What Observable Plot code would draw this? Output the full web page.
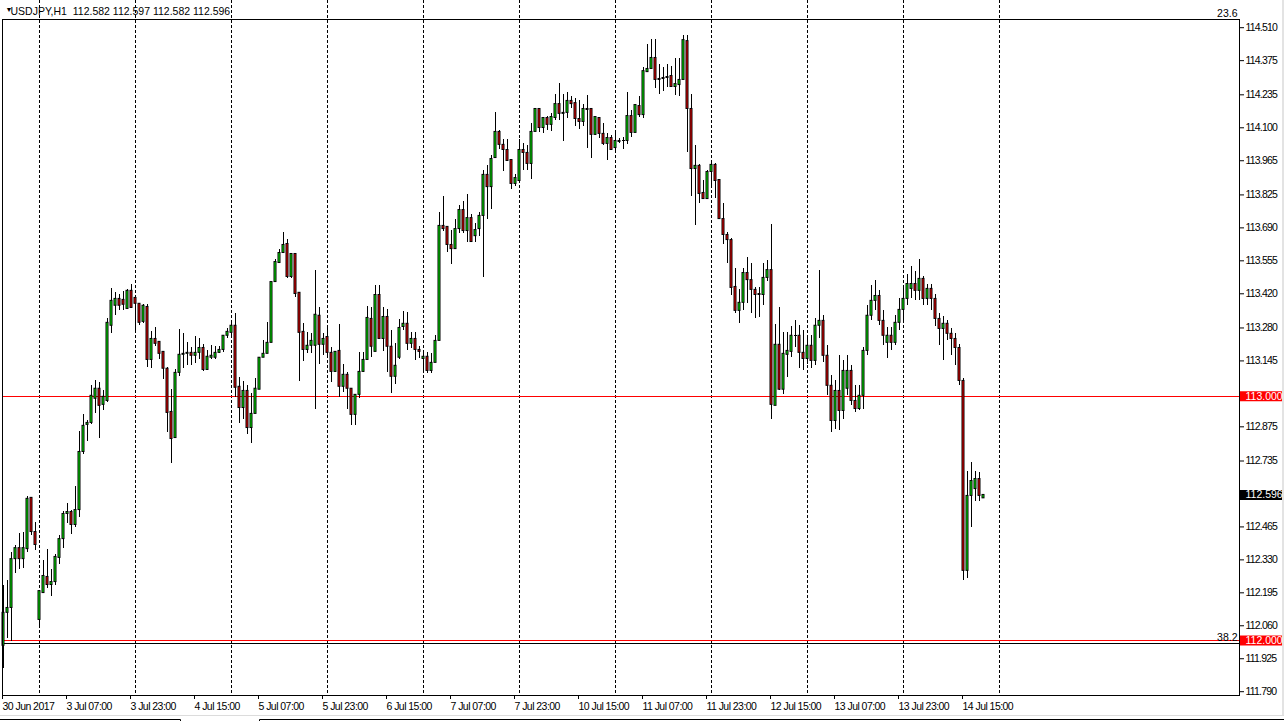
<!DOCTYPE html>
<html><head><meta charset="utf-8">
<script src="https://cdn.jsdelivr.net/npm/d3@7"></script>
<script src="https://cdn.jsdelivr.net/npm/@observablehq/plot@0.6"></script>
<style>
html,body{margin:0;padding:0;background:#fff;overflow:hidden;}
svg text{white-space:pre;}
g[aria-label="y-axis tick label"] text, g[aria-label="price tag text"] text{letter-spacing:-0.8px;}
g[aria-label="x-axis tick label"] text{letter-spacing:-0.55px;}
g[aria-label="title"] text{letter-spacing:-0.75px;}
g[aria-label="fib label"] text{letter-spacing:-0.6px;}
</style>
</head><body><div id="chart"></div>
<script>
// USDJPY H1 candles, bar 0 = 30 Jun 2017 15:00
const open = [
111.978,112.113,112.133,112.333,112.378,112.333,112.374,112.584,112.444,112.084,
112.194,112.260,112.227,112.239,112.338,112.415,112.518,112.526,112.473,112.534,
112.772,112.883,112.891,112.990,113.031,112.965,112.981,113.289,113.371,113.399,
113.395,113.358,113.432,113.403,113.379,113.305,113.366,113.149,113.235,113.223,
113.182,113.113,112.936,112.829,113.096,113.170,113.174,113.178,113.166,113.178,
113.198,113.108,113.158,113.158,113.178,113.190,113.248,113.260,113.289,113.039,
112.952,113.022,112.870,112.928,113.027,113.158,113.174,113.219,113.468,113.546,
113.587,113.624,113.489,113.583,113.424,113.264,113.190,113.207,113.207,113.330,
113.211,113.243,113.178,113.100,113.186,113.039,113.088,113.031,112.924,113.006,
113.100,113.149,113.317,113.182,113.415,113.235,113.325,113.203,113.080,113.158,
113.284,113.297,113.215,113.235,113.190,113.153,113.162,113.104,113.137,113.227,
113.698,113.694,113.620,113.603,113.685,113.763,113.677,113.730,113.656,113.685,
113.739,113.907,113.857,113.976,114.083,114.030,114.009,113.968,113.870,113.882,
114.009,113.997,113.952,114.083,114.177,114.099,114.140,114.112,114.140,114.197,
114.157,114.161,114.210,114.201,114.136,114.124,114.177,114.177,114.071,114.140,
114.075,114.034,114.058,114.017,114.042,114.046,114.046,114.148,114.079,114.189,
114.152,114.328,114.341,114.386,114.300,114.304,114.308,114.312,114.267,114.275,
114.296,114.455,114.177,113.931,113.944,113.833,113.808,113.919,113.948,113.886,
113.726,113.661,113.640,113.448,113.350,113.383,113.505,113.476,113.436,113.419,
113.415,113.485,113.517,112.961,113.211,113.027,113.170,113.182,113.248,113.248,
113.178,113.153,113.207,113.145,113.289,113.309,113.166,113.043,112.899,113.022,
112.940,113.031,113.104,112.981,112.948,113.002,113.186,113.330,113.391,113.411,
113.309,113.219,113.248,113.219,113.301,113.354,113.399,113.440,113.460,113.432,
113.481,113.399,113.440,113.399,113.317,113.276,113.297,113.256,113.235,113.198,
113.063,112.285,112.592,112.620,112.661,112.582
];
const high = [
112.223,112.247,112.362,112.387,112.440,112.444,112.588,112.586,112.485,112.205,
112.329,112.374,112.292,112.354,112.428,112.530,112.559,112.534,112.629,112.854,
112.924,112.899,113.043,113.063,113.055,113.022,113.317,113.440,113.424,113.419,
113.428,113.436,113.456,113.407,113.379,113.375,113.375,113.264,113.280,113.223,
113.182,113.117,113.026,113.108,113.272,113.256,113.219,113.198,113.243,113.235,
113.211,113.186,113.207,113.203,113.203,113.248,113.276,113.309,113.338,113.076,
113.059,113.043,113.010,113.072,113.158,113.227,113.301,113.468,113.562,113.603,
113.669,113.644,113.583,113.583,113.424,113.297,113.260,113.256,113.517,113.362,
113.256,113.276,113.198,113.182,113.293,113.129,113.096,113.031,113.006,113.178,
113.178,113.366,113.362,113.452,113.452,113.362,113.354,113.268,113.215,113.313,
113.346,113.342,113.260,113.260,113.203,113.186,113.178,113.174,113.248,113.751,
113.820,113.694,113.681,113.726,113.780,113.800,113.825,113.743,113.706,113.751,
113.923,113.944,113.985,114.161,114.087,114.050,114.050,113.972,113.907,114.050,
114.034,114.026,114.116,114.177,114.181,114.144,114.148,114.157,114.238,114.283,
114.238,114.246,114.230,114.222,114.210,114.197,114.234,114.177,114.144,114.144,
114.116,114.075,114.067,114.075,114.058,114.062,114.246,114.169,114.197,114.230,
114.345,114.443,114.463,114.463,114.361,114.345,114.361,114.353,114.382,114.382,
114.480,114.476,114.238,114.026,113.948,113.882,113.923,113.952,113.952,113.890,
113.788,113.669,113.648,113.522,113.436,113.522,113.567,113.542,113.444,113.444,
113.546,113.558,113.702,113.293,113.362,113.260,113.260,113.284,113.309,113.289,
113.268,113.235,113.248,113.317,113.517,113.330,113.207,113.084,113.063,113.166,
113.145,113.166,113.125,113.043,113.043,113.198,113.370,113.452,113.476,113.432,
113.350,113.280,113.280,113.330,113.399,113.440,113.501,113.530,113.513,113.562,
113.489,113.460,113.460,113.419,113.338,113.325,113.309,113.276,113.256,113.211,
113.071,112.694,112.727,112.694,112.686,112.597
];
const low = [
111.883,112.006,111.994,112.276,112.292,112.296,112.362,112.428,112.370,112.051,
112.194,112.211,112.178,112.223,112.313,112.378,112.477,112.432,112.461,112.505,
112.760,112.813,112.883,112.928,112.829,112.940,112.973,113.256,113.330,113.350,
113.350,113.354,113.358,113.260,113.289,113.297,113.117,113.113,113.203,113.149,
113.067,112.850,112.723,112.829,113.080,113.113,113.125,113.125,113.133,113.149,
113.100,113.104,113.149,113.149,113.174,113.178,113.235,113.248,112.994,112.887,
112.907,112.842,112.805,112.928,113.027,113.158,113.174,113.219,113.468,113.546,
113.587,113.481,113.481,113.403,113.059,113.141,113.174,113.174,112.948,113.129,
113.166,113.154,113.055,113.096,112.994,113.014,112.948,112.879,112.879,112.990,
113.096,113.149,113.158,113.182,113.235,113.182,113.096,113.010,113.047,113.149,
113.268,113.186,113.194,113.145,113.153,113.100,113.092,113.092,113.137,113.227,
113.677,113.591,113.538,113.603,113.665,113.665,113.632,113.632,113.632,113.656,
113.485,113.726,113.767,113.976,114.009,113.919,113.960,113.849,113.861,113.882,
113.927,113.923,113.890,114.083,114.079,114.075,114.087,114.083,114.128,114.128,
114.042,114.136,114.177,114.107,114.095,114.107,114.017,113.976,114.067,114.058,
114.026,113.968,114.005,113.993,114.034,114.009,114.030,114.062,114.079,114.144,
114.140,114.328,114.341,114.259,114.238,114.250,114.263,114.263,114.234,114.230,
114.296,113.997,113.820,113.698,113.788,113.808,113.808,113.861,113.812,113.726,
113.620,113.542,113.411,113.338,113.297,113.350,113.379,113.338,113.317,113.321,
113.370,113.472,112.907,112.961,113.022,113.006,113.076,113.158,113.198,113.113,
113.104,113.129,113.113,113.125,113.235,113.137,113.002,112.850,112.866,112.858,
112.907,113.002,112.961,112.932,112.940,112.948,113.166,113.309,113.350,113.289,
113.207,113.153,113.186,113.207,113.268,113.309,113.370,113.399,113.391,113.391,
113.370,113.370,113.350,113.284,113.207,113.145,113.227,113.166,113.125,113.043,
112.244,112.253,112.461,112.571,112.571,112.582
];
const close = [
112.113,112.133,112.333,112.378,112.333,112.378,112.580,112.444,112.391,112.202,
112.264,112.227,112.239,112.342,112.415,112.518,112.526,112.473,112.534,112.772,
112.879,112.891,113.002,113.031,112.961,112.998,113.301,113.391,113.399,113.371,
113.375,113.432,113.362,113.379,113.301,113.371,113.149,113.235,113.215,113.174,
113.113,112.932,112.825,113.096,113.170,113.174,113.178,113.166,113.178,113.198,
113.108,113.162,113.166,113.178,113.190,113.248,113.264,113.289,113.035,112.952,
113.022,112.870,112.928,113.031,113.158,113.174,113.219,113.468,113.550,113.587,
113.620,113.489,113.583,113.419,113.260,113.190,113.207,113.227,113.334,113.211,
113.235,113.178,113.100,113.182,113.039,113.088,113.031,112.924,113.006,113.100,
113.149,113.321,113.203,113.415,113.235,113.325,113.203,113.080,113.125,113.280,
113.297,113.215,113.235,113.190,113.182,113.162,113.104,113.137,113.227,113.698,
113.685,113.620,113.603,113.685,113.763,113.677,113.730,113.632,113.681,113.739,
113.907,113.857,113.972,114.083,114.030,114.009,113.964,113.870,113.894,114.009,
113.997,113.952,114.083,114.177,114.099,114.140,114.112,114.144,114.197,114.157,
114.161,114.210,114.197,114.136,114.124,114.177,114.173,114.071,114.144,114.075,
114.034,114.058,114.009,114.046,114.046,114.046,114.148,114.079,114.193,114.152,
114.332,114.341,114.386,114.296,114.296,114.300,114.304,114.267,114.279,114.296,
114.459,114.177,113.931,113.944,113.829,113.808,113.919,113.948,113.882,113.726,
113.661,113.640,113.444,113.350,113.383,113.505,113.476,113.436,113.415,113.415,
113.485,113.517,112.965,113.211,113.027,113.174,113.186,113.248,113.248,113.178,
113.153,113.207,113.145,113.289,113.309,113.166,113.043,112.899,113.022,112.940,
113.104,113.104,112.981,112.948,113.002,113.186,113.330,113.391,113.411,113.309,
113.248,113.248,113.219,113.301,113.354,113.399,113.460,113.460,113.432,113.481,
113.399,113.440,113.399,113.317,113.276,113.297,113.256,113.235,113.198,113.063,
112.285,112.592,112.653,112.661,112.592,112.596
];

// time axis
const timeLabelBars = [0,16,32,48,64,80,96,112,128,144,160,176,192,208,224,240];
const timeLabels = ["30 Jun 2017","3 Jul 07:00","3 Jul 23:00","4 Jul 15:00","5 Jul 07:00","5 Jul 23:00",
  "6 Jul 15:00","7 Jul 07:00","7 Jul 23:00","10 Jul 15:00","11 Jul 07:00","11 Jul 23:00",
  "12 Jul 15:00","13 Jul 07:00","13 Jul 23:00","14 Jul 15:00"];
const daySeparatorBars = [9,33,57,81,105,129,153,177,201,225,249];

// price axis
const priceTicks = [114.510,114.375,114.235,114.100,113.965,113.825,113.690,113.555,113.420,113.280,
  113.145,112.875,112.735,112.465,112.330,112.195,112.060,111.925,111.790];
const hLineLevels = [113.000, 112.000];
const fibLevels = [114.543, 111.988];
const fibNames = ["23.6", "38.2"];
const lastPrice = [112.596];
const titleText = "USDJPY,H1  112.582 112.597 112.582 112.596";

const bars = open.map((o, i) => ({i, open: o, high: high[i], low: low[i], close: close[i]}));
const bodies = bars.filter(d => Math.abs(d.close - d.open) >= 0.002);
const dojis = bars.filter(d => Math.abs(d.close - d.open) < 0.002);
const labelByBar = new Map(timeLabelBars.map((b, k) => [b, timeLabels[k]]));

const BULL = "#00ff00", BEAR = "#ff0000", LEVEL = "#ff0000";
const FONT = "'Liberation Sans',Arial,sans-serif";
const FS = 10.5;
const BOX_X1 = 309.25, BOX_X2 = 319.75; // price tag boxes in the right scale area
const fmt = d3.format(".3f");

const chart = Plot.plot({
  width: 1284, height: 721,
  marginLeft: 2, marginRight: 45, marginTop: 0, marginBottom: 26,
  x: {type: "linear", domain: [-0.25, 309], axis: null},
  y: {type: "linear", domain: [111.7744, 114.6214], axis: null, label: null},
  color: {type: "identity"},
  style: {fontFamily: FONT, fontSize: FS + "px", background: "white", color: "black"},
  marks: [
    Plot.ruleX(daySeparatorBars, {stroke: "black", strokeDasharray: "3,2", shapeRendering: "crispEdges"}),
    Plot.ruleY(hLineLevels, {stroke: LEVEL, shapeRendering: "crispEdges"}),
    Plot.ruleY(fibLevels, {stroke: "black", shapeRendering: "crispEdges"}),
    Plot.text(fibNames, {y: fibLevels, frameAnchor: "right", textAnchor: "end", dx: -2, dy: -6, fill: "black", ariaLabel: "fib label"}),
    Plot.ruleX(bars, {x: "i", y1: "low", y2: "high", stroke: "black", shapeRendering: "crispEdges"}),
    // body: coloured core with a black outline, centred on the wick
    Plot.rect(bodies, {x1: d => d.i - 0.25, x2: d => d.i + 0.25, y1: "open", y2: "close",
      fill: d => d.close >= d.open ? BULL : BEAR, stroke: "black"}),
    Plot.ruleY(dojis, {x1: d => d.i - 0.375, x2: d => d.i + 0.375, y: "close", stroke: "black", shapeRendering: "crispEdges"}),
    Plot.frame({insetTop: 19, stroke: "black", shapeRendering: "crispEdges"}),
    Plot.axisX(timeLabelBars, {anchor: "bottom", tickSize: 4, tickPadding: 3, textAnchor: "start", dx: -1,
      tickFormat: d => labelByBar.get(d), label: null, fontSize: FS}),
    Plot.axisY(priceTicks, {anchor: "right", tickSize: 4, tickPadding: 2, tickFormat: fmt, label: null, fontSize: FS}),
    Plot.ruleY(hLineLevels, {x1: BOX_X1, x2: BOX_X2, stroke: LEVEL, strokeWidth: 10}),
    Plot.text(hLineLevels, {y: d => d, text: d => fmt(d), frameAnchor: "right", dx: 6, textAnchor: "start", fill: "white", ariaLabel: "price tag text"}),
    Plot.ruleY(lastPrice, {x1: BOX_X1, x2: BOX_X2, stroke: "black", strokeWidth: 10}),
    Plot.text(lastPrice, {y: d => d, text: d => fmt(d), frameAnchor: "right", dx: 6, textAnchor: "start", fill: "white", ariaLabel: "price tag text"}),
    Plot.text(["\u25BC"], {frameAnchor: "top-left", dx: 3, dy: 7, fontSize: 7, textAnchor: "start", fill: "black"}),
    Plot.text([titleText], {frameAnchor: "top-left", dx: 8, dy: 7, textAnchor: "start", fill: "black", ariaLabel: "title"})
  ]
});
document.getElementById("chart").appendChild(chart);

// window chrome: right scroll edge and bottom tab strip (behind the marks)
const svg = d3.select(chart);
svg.insert("rect", ":first-child").attr("x", 1282).attr("y", 0).attr("width", 2).attr("height", 716).attr("fill", "#e3e3e3");
svg.append("line").attr("x1", 0).attr("x2", 1284).attr("y1", 715.5).attr("y2", 715.5).attr("stroke", "#dcdcdc");
svg.append("path").attr("d", "M0,719.5H180.5V721M259.5,721V719.5H1284").attr("fill", "none").attr("stroke", "black");
</script>
</body></html>
